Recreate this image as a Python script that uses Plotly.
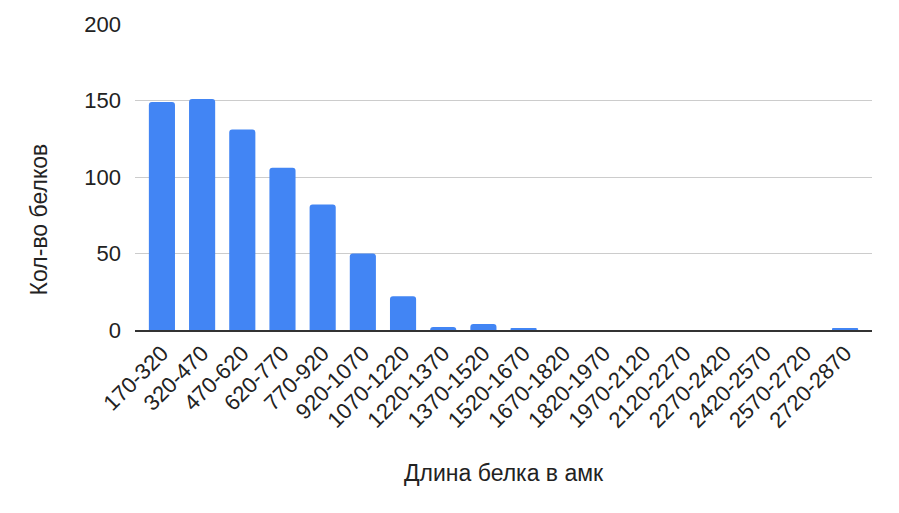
import plotly.graph_objects as go

bins = ["170-320", "320-470", "470-620", "620-770", "770-920", "920-1070",
        "1070-1220", "1220-1370", "1370-1520", "1520-1670", "1670-1820",
        "1820-1970", "1970-2120", "2120-2270", "2270-2420", "2420-2570",
        "2570-2720", "2720-2870"]
counts = [149, 151, 131, 106, 82, 50, 22, 2, 4, 1, 0, 0, 0, 0, 0, 0, 0, 1]

fig = go.Figure()
fig.add_trace(go.Bar(x=bins, y=counts, marker_color="#4285f4",
                     marker_line_width=0))

fig.update_layout(
    width=899, height=513,
    margin=dict(l=127, r=35, t=16, b=191, autoexpand=False),
    plot_bgcolor="white", paper_bgcolor="white",
    font=dict(family="Liberation Sans, Arial", color="#222222", size=22),
    bargap=0.35,
    barcornerradius=3,
    showlegend=False,
)
fig.update_xaxes(
    range=[-0.67, 17.67],
    tickangle=-45, tickfont_size=22, automargin=False,
    showline=True, linecolor="#333333", linewidth=1.5,
)
fig.update_yaxes(
    range=[0, 200], tickvals=[0, 50, 100, 150, 200], automargin=False,
    gridcolor="#cccccc", zeroline=False, ticklabelstandoff=13,
)

# axis titles placed as in the original (y title is not centred on the plot)
fig.add_annotation(text="Длина белка в амк", xref="paper", yref="paper",
                   x=0.5, y=-0.467, xanchor="center", yanchor="middle",
                   showarrow=False, font_size=23)
fig.add_annotation(text="Кол-во белков", xref="paper", yref="paper",
                   x=-0.131, y=0.363, xanchor="center", yanchor="middle",
                   textangle=-90, showarrow=False, font_size=23)

fig.write_html("out.html")
